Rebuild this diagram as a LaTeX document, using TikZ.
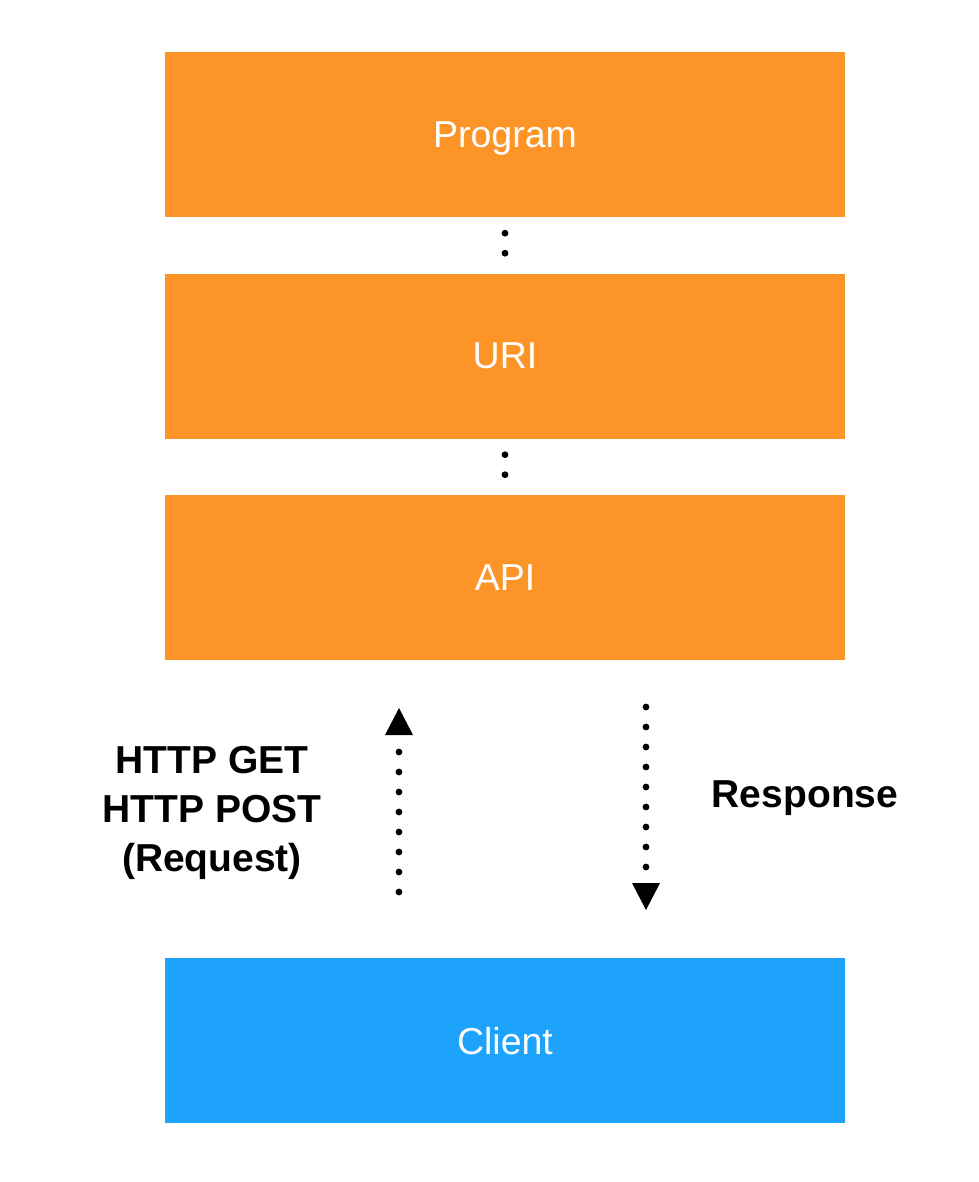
\documentclass[tikz,border=0pt]{standalone}
\usepackage{fontspec}
\setmainfont{Liberation Sans}
\usetikzlibrary{arrows.meta}
\definecolor{boxorange}{RGB}{252,148,40}
\definecolor{boxblue}{RGB}{29,163,252}
\tikzset{
  layer/.style={draw=none, fill=boxorange, minimum width=680pt, minimum height=165pt, inner sep=0pt,
    text=white, text depth=0pt, font=\fontsize{37.5}{45}\selectfont},
  clientbox/.style={layer, fill=boxblue},
  lbl/.style={font=\fontsize{39}{49}\selectfont\bfseries, align=center, inner sep=0pt, anchor=base},
  linkdots/.style={line width=6.8pt, line cap=round, dash pattern=on 0pt off 20pt on 0pt off 200pt, dash phase=204pt},
  dotline/.style={line width=6.8pt, line cap=round, dash pattern=on 0pt off 20pt},
  tip/.style={-{Triangle[width=28pt,length=27pt,line width=0pt]}}
}
\begin{document}
\begin{tikzpicture}[x=1pt,y=-1pt]
\useasboundingbox (0,0) rectangle (978,1182);
\node[layer] (prog) at (505,134.5) {Program};
\node[layer] (uri) at (505,356) {URI};
\node[layer] (api) at (505,577.5) {API};
\node[clientbox] (client) at (505,1040.5) {Client};
\draw[linkdots] (prog.south) -- (uri.north);
\draw[linkdots] (uri.south) -- (api.north);
\coordinate (reqS) at (399,892);
\coordinate (reqE) at (399,708);
\coordinate (resS) at (646,707);
\coordinate (resE) at (646,910);
\draw[dotline, tip] (reqS) -- (reqE);
\draw[dotline, tip] (resS) -- (resE);
\node[lbl] (req) at (212,871) {HTTP GET\\HTTP POST\\(Request)};
\node[lbl] (resp) at (805,807) {Response};
\end{tikzpicture}
\end{document}
